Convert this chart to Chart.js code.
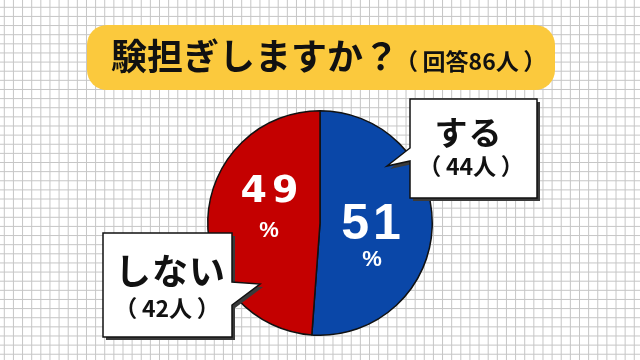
<!DOCTYPE html>
<html lang="ja">
<head>
<meta charset="utf-8">
<script src="https://cdn.jsdelivr.net/npm/chart.js@4"></script>
<style>
  html, body { margin: 0; padding: 0; background: #fff; }
  canvas { display: block; }
</style>
</head>
<body>
<canvas id="pie-chart" width="640" height="360"></canvas>
<script>
// Data
const answers = ['する', 'しない'];
const counts = [44, 42];
const percents = [51, 49];
const title = '験担ぎしますか？';

const JP = "'Noto Sans CJK JP', 'Noto Sans', sans-serif";
const total = counts.reduce((a, b) => a + b, 0);
const paren = s => `（\u2009${s}\u2009）`;

// graph paper background + yellow title banner
const backdrop = {
  id: 'backdrop',
  beforeDraw(chart) {
    const ctx = chart.ctx;
    const w = chart.width, h = chart.height;
    ctx.save();
    ctx.fillStyle = '#fff';
    ctx.fillRect(0, 0, w, h);
    ctx.strokeStyle = '#c6c6c6';
    ctx.lineWidth = 1;
    ctx.beginPath();
    for (let x = 4.3; x < w; x += 9.13) { ctx.moveTo(x, 0); ctx.lineTo(x, h); }
    for (let y = 7.3; y < h; y += 9.13) { ctx.moveTo(0, y); ctx.lineTo(w, y); }
    ctx.stroke();

    ctx.fillStyle = '#fbc93d';
    ctx.beginPath();
    ctx.roundRect(87, 25, 468, 65, 20);
    ctx.fill();

    ctx.fillStyle = '#111';
    ctx.textBaseline = 'alphabetic';
    ctx.textAlign = 'left';
    ctx.font = `bold 36px ${JP}`;
    ctx.fillText(title, 111, 70);
    const tw = ctx.measureText(title).width;
    ctx.font = `bold 23px ${JP}`;
    ctx.fillText(paren(`回答${total}人`), 111 + tw - 4, 70);
    ctx.restore();
  }
};

function callout(ctx, pts, lines) {
  const path = () => {
    ctx.beginPath();
    pts.forEach((p, i) => i ? ctx.lineTo(p[0], p[1]) : ctx.moveTo(p[0], p[1]));
    ctx.closePath();
  };
  ctx.save();
  ctx.translate(3, 3);
  path();
  ctx.fillStyle = '#3a3a3a';
  ctx.fill();
  ctx.restore();
  path();
  ctx.fillStyle = '#fff';
  ctx.fill();
  ctx.strokeStyle = '#111';
  ctx.lineWidth = 1.5;
  ctx.stroke();
  ctx.fillStyle = '#111';
  ctx.textAlign = 'center';
  ctx.textBaseline = 'middle';
  lines.forEach(l => {
    ctx.font = `bold ${l.size}px ${JP}`;
    ctx.letterSpacing = (l.spacing || 0) + 'px';
    ctx.fillText(l.text, l.x + (l.spacing || 0) / 2, l.y);
  });
  ctx.letterSpacing = '0px';
}

// percent labels inside the slices and the speech bubbles
const labelsPlugin = {
  id: 'labels',
  afterDatasetsDraw(chart) {
    const ctx = chart.ctx;
    const arcs = chart.getDatasetMeta(0).data;
    const cx = arcs[0].x, cy = arcs[0].y;
    ctx.save();
    ctx.fillStyle = '#fff';
    ctx.textAlign = 'center';
    ctx.textBaseline = 'middle';

    // 51%
    ctx.save();
    ctx.font = "bold 50px 'Liberation Sans', Arial, sans-serif";
    ctx.letterSpacing = '4px';
    ctx.fillText(String(percents[0]), cx + 53, cy + 2);
    ctx.restore();
    ctx.font = "bold 22px 'Liberation Sans', Arial, sans-serif";
    ctx.fillText('%', cx + 52, cy + 37);

    // 49%
    ctx.save();
    ctx.font = "bold 38px 'DejaVu Sans', sans-serif";
    ctx.letterSpacing = '5px';
    ctx.fillText(String(percents[1]), cx - 50 + 2, cy - 31);
    ctx.restore();
    ctx.font = "bold 22px 'Liberation Sans', Arial, sans-serif";
    ctx.fillText('%', cx - 51, cy + 8);
    ctx.restore();

    ctx.save();
    callout(ctx,
      [[410, 99], [537, 99], [537, 198], [410, 198], [410, 161], [387, 166], [410, 148]],
      [{ text: answers[0], size: 33, x: 468, y: 132, spacing: 1 },
       { text: paren(`${counts[0]}人`), size: 23, x: 471, y: 166 }]);
    callout(ctx,
      [[103, 233], [232, 233], [232, 282], [260, 284], [232, 305], [232, 337], [103, 337]],
      [{ text: answers[1], size: 36, x: 170, y: 271, spacing: 1 },
       { text: paren(`${counts[1]}人`), size: 23, x: 167, y: 308 }]);
    ctx.restore();
  }
};

new Chart(document.getElementById('pie-chart'), {
  type: 'pie',
  data: {
    labels: answers,
    datasets: [{
      data: counts,
      backgroundColor: ['#0a47a8', '#c40000'],
      borderColor: '#111',
      borderWidth: 1.5
    }]
  },
  options: {
    responsive: false,
    animation: false,
    layout: { padding: { top: 110, bottom: 24, left: 207, right: 207 } },
    plugins: {
      legend: { display: false },
      tooltip: { enabled: false }
    }
  },
  plugins: [backdrop, labelsPlugin]
});
</script>
</body>
</html>
